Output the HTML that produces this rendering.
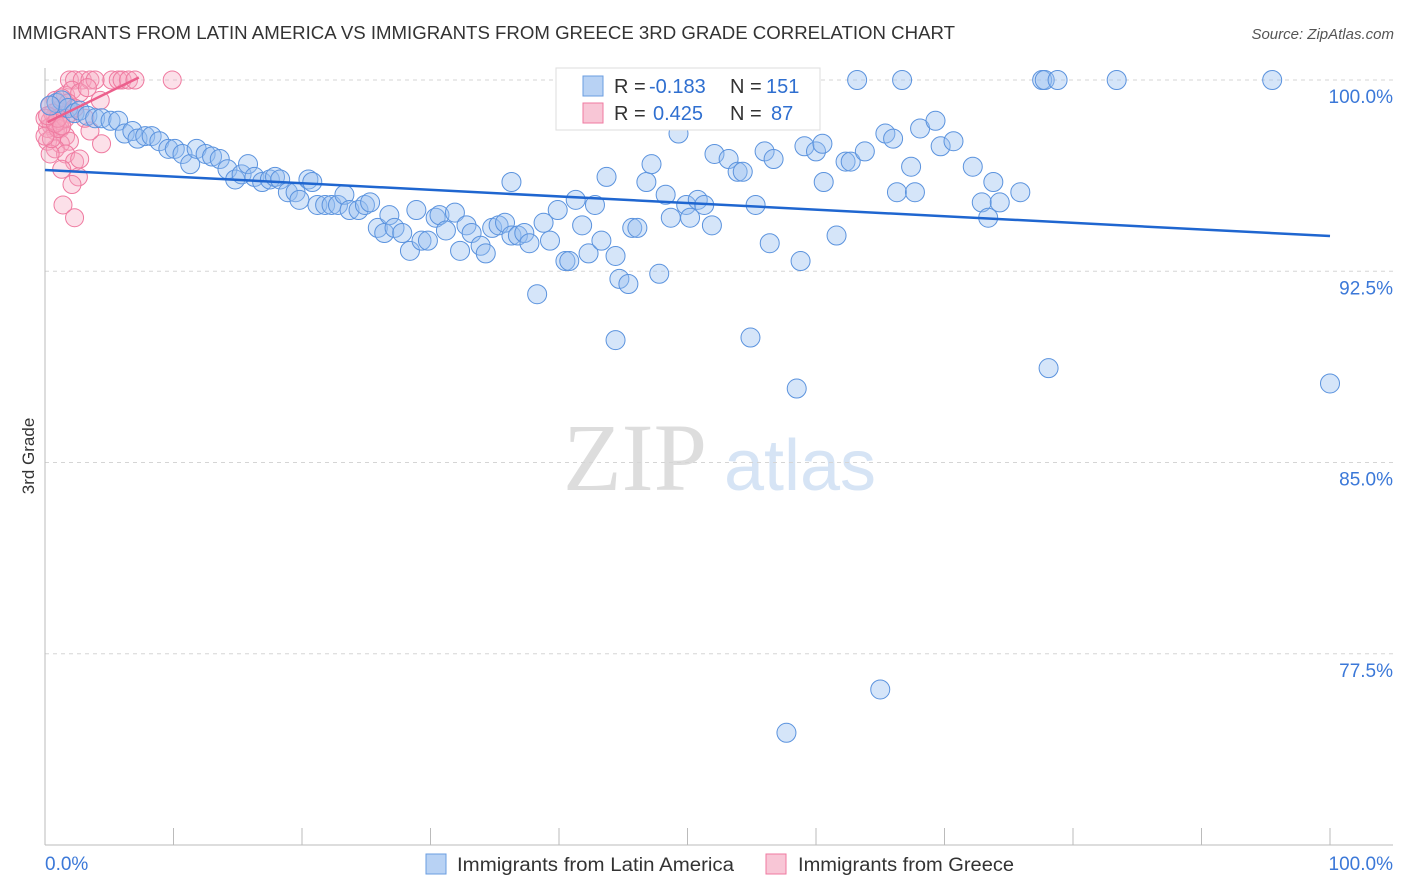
<!DOCTYPE html>
<html><head><meta charset="utf-8"><style>
body{margin:0;background:#fff;font-family:"Liberation Sans",sans-serif;}
#wrap{position:relative;width:1406px;height:892px;overflow:hidden}
</style></head><body>
<div id="wrap">
<svg id="svg" width="1406" height="892" xmlns="http://www.w3.org/2000/svg">
<text x="12" y="39" font-size="18" fill="#333" textLength="943" lengthAdjust="spacingAndGlyphs">IMMIGRANTS FROM LATIN AMERICA VS IMMIGRANTS FROM GREECE 3RD GRADE CORRELATION CHART</text>
<text x="1394" y="39" font-size="15" fill="#555" font-style="italic" text-anchor="end">Source: ZipAtlas.com</text>
<text x="34" y="456" font-size="17" fill="#333" text-anchor="middle" transform="rotate(-90 34 456)">3rd Grade</text>
<g><text x="635" y="490" font-size="96" fill="#ddd" font-family="Liberation Serif, serif" text-anchor="middle">ZIP</text><text x="800" y="490" font-size="72" fill="#d6e4f5" text-anchor="middle">atlas</text></g>
<g id="grid"></g><g id="axes"></g><g id="pts"></g><g id="lines"></g>
<g>
<rect x="556" y="68" width="264" height="62" fill="#fff" stroke="#ddd"/>
<rect x="583" y="76" width="20" height="20" fill="#b8d2f4" stroke="#6a9de0"/>
<text x="614" y="93" font-size="20" fill="#333">R =</text>
<text x="649" y="93" font-size="20" fill="#2f6fd0">-0.183</text>
<text x="730" y="93" font-size="20" fill="#333">N =</text>
<text x="766" y="93" font-size="20" fill="#2f6fd0">151</text>
<rect x="583" y="103" width="20" height="20" fill="#f8c6d6" stroke="#ef7aa0"/>
<text x="614" y="120" font-size="20" fill="#333">R =</text>
<text x="653" y="120" font-size="20" fill="#2f6fd0">0.425</text>
<text x="730" y="120" font-size="20" fill="#333">N =</text>
<text x="771" y="120" font-size="20" fill="#2f6fd0">87</text>
</g>
<g>
<rect x="426" y="854" width="20" height="20" fill="#b8d2f4" stroke="#6a9de0"/>
<text x="457" y="871" font-size="19" fill="#333" textLength="277" lengthAdjust="spacingAndGlyphs">Immigrants from Latin America</text>
<rect x="766" y="854" width="20" height="20" fill="#f8c6d6" stroke="#ef7aa0"/>
<text x="798" y="871" font-size="19" fill="#333" textLength="216" lengthAdjust="spacingAndGlyphs">Immigrants from Greece</text>
</g>
</svg></div>
<script>
const yTicks=[100,92.5,85,77.5];
const yTickLabels=["100.0%","92.5%","85.0%","77.5%"];
const xTickLabels=["0.0%","100.0%"];
const blueX=[0.9,1.3,1.8,2.3,2.7,3.3,3.9,4.4,5.1,5.7,6.2,6.8,7.2,7.8,8.3,8.9,9.6,10.1,10.7,11.3,11.8,12.5,13.0,13.6,14.2,14.8,15.3,15.8,16.3,16.9,17.5,17.9,18.3,18.9,19.5,19.8,20.5,20.8,21.2,21.8,22.3,22.8,23.3,23.7,24.4,24.9,25.3,25.9,26.4,26.8,27.2,27.8,28.4,28.9,29.3,29.8,30.4,30.7,31.2,31.9,32.3,32.8,33.2,33.9,34.3,34.8,35.3,35.8,36.3,36.8,37.3,37.7,38.3,38.8,39.3,39.9,40.5,40.8,41.3,41.8,42.3,42.8,43.3,43.7,44.4,44.7,45.4,45.7,46.1,46.8,47.2,47.8,48.3,48.7,49.9,50.2,50.8,51.3,51.9,52.1,53.2,53.9,54.3,55.3,56.0,56.4,56.7,58.8,59.1,60.0,60.5,60.6,61.6,62.3,62.7,63.8,65.4,66.0,66.3,67.4,67.7,68.1,69.3,69.7,70.7,72.2,72.9,73.4,73.8,74.3,75.9,77.6,77.8,78.8,83.4,95.5,63.2,66.7,44.4,54.9,58.5,78.1,100,65.0,57.7,57.6,53.1,49.3,36.3,0.4];
const blueY=[99.1,99.2,98.9,98.7,98.8,98.6,98.5,98.5,98.4,98.4,97.9,98.0,97.7,97.8,97.8,97.6,97.3,97.3,97.1,96.7,97.3,97.1,97.0,96.9,96.5,96.1,96.3,96.7,96.2,96.0,96.1,96.2,96.1,95.6,95.6,95.3,96.1,96.0,95.1,95.1,95.1,95.1,95.5,94.9,94.9,95.1,95.2,94.2,94.0,94.7,94.2,94.0,93.3,94.9,93.7,93.7,94.6,94.7,94.1,94.8,93.3,94.3,94.0,93.5,93.2,94.2,94.3,94.4,93.9,93.9,94.0,93.6,91.6,94.4,93.7,94.9,92.9,92.9,95.3,94.3,93.2,95.1,93.7,96.2,93.1,92.2,92.0,94.2,94.2,96.0,96.7,92.4,95.5,94.6,95.1,94.6,95.3,95.1,94.3,97.1,96.9,96.4,96.4,95.1,97.2,93.6,96.9,92.9,97.4,97.2,97.5,96.0,93.9,96.8,96.8,97.2,97.9,97.7,95.6,96.6,95.6,98.1,98.4,97.4,97.6,96.6,95.2,94.6,96.0,95.2,95.6,100,100,100,100,100,100,100,89.8,89.9,87.9,88.7,88.1,76.1,74.4,98.7,98.8,97.9,96.0,99.0];
const pinkX=[1.9,2.3,2.9,3.5,3.9,5.2,5.7,6.0,6.5,7.0,9.9,1.6,2.1,2.7,3.3,4.3,1.0,0.8,0.4,0.5,1.2,0.8,1.6,0.2,1.2,1.9,0.8,1.6,2.3,0.4,2.7,1.3,2.6,2.1,1.4,2.3,4.4,3.5,3.1,1.9,1.2,0.8,0.4,1.3,1.8,2.3,0.2,0.5,1.0,1.6,0.6,0,0,0.8,1.0,1.3,0.2];
const pinkY=[100,100,100,100,100,100,100,100,100,100,100,99.4,99.6,99.5,99.7,99.2,98.8,98.6,98.4,98.2,98.1,98.0,97.8,97.6,97.5,97.6,97.3,97.1,96.8,97.1,96.9,96.5,96.2,95.9,95.1,94.6,97.5,98.0,98.5,98.7,98.4,99.2,99.0,99.3,99.1,98.9,98.1,97.7,98.1,98.5,98.7,98.5,97.8,98.3,98.5,98.2,98.6];
const blueTrend=[[0,96.47],[100,93.88]];
const pinkTrend=[[0.2,98.35],[7.3,100.1]];
const X0=45,X1=1330,Y0=80,YR=25.5;
function sx(v){return X0+(X1-X0)*v/100;}
function sy(v){return Y0+(100-v)*YR;}
const NS="http://www.w3.org/2000/svg";
function mk(t,a,p){const e=document.createElementNS(NS,t);for(const k in a)e.setAttribute(k,a[k]);p.appendChild(e);return e;}
const grid=document.getElementById('grid'),axes=document.getElementById('axes');
yTicks.forEach((t,i)=>{
 const l=mk('line',{x1:X0,x2:1393,y1:sy(t),y2:sy(t),stroke:'#d5d5d5','stroke-dasharray':'4,4'},grid);
 
 
 const tx=mk('text',{x:1393,y:sy(t)+23,'font-size':19,fill:'#3b78d8','text-anchor':'end'},axes);
 tx.textContent=yTickLabels[i];
 
 
});
const ax=mk('line',{x1:X0,x2:X0,y1:68,y2:845,stroke:'#bbb'},axes);


const bx=mk('line',{x1:X0,x2:1393,y1:845,y2:845,stroke:'#bbb'},axes);


for(let i=0;i<=10;i++){const t=mk('line',{x1:sx(i*10),x2:sx(i*10),y1:828,y2:845,stroke:'#bbb'},axes);
 
 }
[[0,'start',X0],[1,'end',1393]].forEach(([i,a,x])=>{const t=mk('text',{x:x,y:870,'font-size':19,fill:'#3b78d8','text-anchor':a},axes);t.textContent=xTickLabels[i];
 
 });
const pts=document.getElementById('pts');
pinkX.forEach((v,i)=>{const c=mk('circle',{cx:sx(v),cy:sy(pinkY[i]),r:9,fill:'rgba(245,165,192,0.35)',stroke:'#ef7aa0','stroke-width':1},pts);
 
 });
blueX.forEach((v,i)=>{const c=mk('circle',{cx:sx(v),cy:sy(blueY[i]),r:9.5,fill:'rgba(150,190,240,0.4)',stroke:'#5b93de','stroke-width':1},pts);
 
 });
const lines=document.getElementById('lines');
const bl=mk('line',{x1:sx(blueTrend[0][0]),y1:sy(blueTrend[0][1]),x2:sx(blueTrend[1][0]),y2:sy(blueTrend[1][1]),stroke:'#1f66d0','stroke-width':2.5},lines);


const pl=mk('line',{x1:sx(pinkTrend[0][0]),y1:sy(pinkTrend[0][1]),x2:sx(pinkTrend[1][0]),y2:sy(pinkTrend[1][1]),stroke:'#ec5f8c','stroke-width':2.5},lines);


</script>
</body></html>
